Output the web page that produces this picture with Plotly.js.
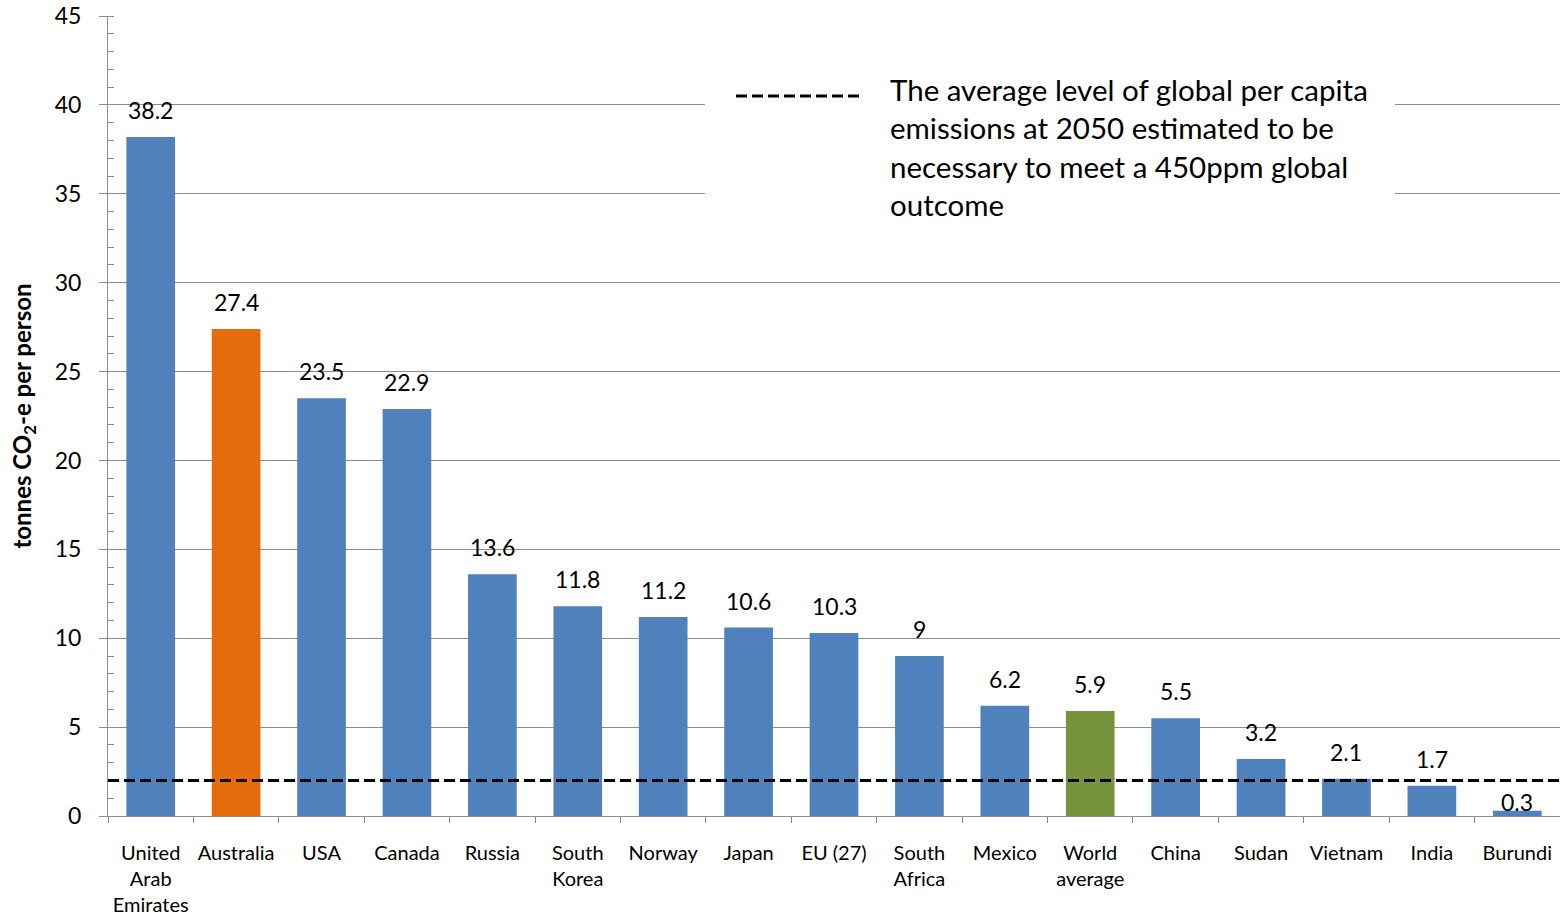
<!DOCTYPE html>
<html>
<head>
<meta charset="utf-8">
<script src="https://cdn.plot.ly/plotly-3.0.1.min.js"></script>
<style>html,body{margin:0;padding:0;background:#fff;}#chart{width:1560px;height:915px;}</style>
</head>
<body>
<div id="chart"></div>
<script>
// ---- data ----
const categories = ["United Arab Emirates","Australia","USA","Canada","Russia","South Korea","Norway","Japan","EU (27)","South Africa","Mexico","World average","China","Sudan","Vietnam","India","Burundi"];
const tickLabels = ["United<br>Arab<br>Emirates","Australia","USA","Canada","Russia","South<br>Korea","Norway","Japan","EU (27)","South<br>Africa","Mexico","World<br>average","China","Sudan","Vietnam","India","Burundi"];
const emissions = [38.2,27.4,23.5,22.9,13.6,11.8,11.2,10.6,10.3,9,6.2,5.9,5.5,3.2,2.1,1.7,0.3];
const valueLabels = ["38.2","27.4","23.5","22.9","13.6","11.8","11.2","10.6","10.3","9","6.2","5.9","5.5","3.2","2.1","1.7","0.3"];
const target2050 = 2;
const targetLabel = "The average level of global per capita<br>emissions at 2050 estimated to be<br>necessary to meet a 450ppm global<br>outcome";
const yTicks = [0,5,10,15,20,25,30,35,40,45];

// ---- styles ----
const FONT = "Lato, 'Open Sans', sans-serif";
const BLUE = "#4F81BD", ORANGE = "#E46C0A", GREEN = "#77933C";
const highlight = {"Australia": ORANGE, "World average": GREEN};
const barColors = categories.map(c => highlight[c] || BLUE);
const labelShift = {"Burundi": 9};   // label placement tweak (px)
const GRID = "#8C8C8C";

const trace = {
  type: "bar",
  x: categories,
  y: emissions,
  marker: {color: barColors, line: {width: 0}},
  hoverinfo: "x+y",
  showlegend: false
};

const annotations = categories.map((c, i) => ({
  x: c, y: emissions[i], xref: "x", yref: "y",
  text: valueLabels[i], showarrow: false,
  yanchor: "middle", yshift: (labelShift[c] !== undefined ? labelShift[c] : 27),
  font: {family: FONT, size: 23, color: "#000"}
}));

annotations.push({
  xref: "paper", yref: "paper",
  x: (888-108)/1452, y: (816-70)/800,
  xanchor: "left", yanchor: "top", align: "left",
  text: targetLabel, showarrow: false,
  font: {family: FONT, size: 29.5, color: "#000"}
});

const shapes = [
  {type: "rect", xref: "paper", yref: "paper", x0: (705-108)/1452, x1: (1395-108)/1452, y0: (816-240)/800, y1: (816-62)/800,
   fillcolor: "#fff", line: {width: 0}, layer: "above"},
  {type: "line", xref: "paper", yref: "paper", x0: (736-108)/1452, x1: (863-108)/1452, y0: (816-96)/800, y1: (816-96)/800,
   line: {color: "#000", width: 3, dash: "11px,5px"}, layer: "above"},
  {type: "line", xref: "paper", yref: "y", x0: 0, x1: 1, y0: target2050, y1: target2050,
   line: {color: "#000", width: 3, dash: "11px,5px"}, layer: "above"}
];

const layout = {
  width: 1560, height: 915,
  margin: {l: 108, r: 0, t: 16, b: 99, pad: 0},
  paper_bgcolor: "#fff", plot_bgcolor: "#fff",
  font: {family: FONT, color: "#000"},
  bargap: 0.43,
  xaxis: {
    type: "category",
    tickvals: categories, ticktext: tickLabels,
    tickson: "boundaries",
    ticks: "outside", ticklen: 6, tickcolor: GRID, tickwidth: 1,
    showline: true, linecolor: GRID, linewidth: 1,
    showgrid: false, zeroline: false,
    tickfont: {family: FONT, size: 20, color: "#000"},
    ticklabelstandoff: 19,
    tickangle: 0,
    automargin: false
  },
  yaxis: {
    range: [0, 45],
    tickvals: yTicks,
    ticks: "outside", ticklen: 8, tickcolor: GRID, tickwidth: 1,
    showline: true, linecolor: GRID, linewidth: 1,
    showgrid: true, gridcolor: GRID, gridwidth: 1,
    zeroline: false,
    minor: {dtick: 1, ticks: "inside", ticklen: 6, tickcolor: GRID, showgrid: false},
    tickfont: {family: FONT, size: 23, color: "#000"},
    ticklabelstandoff: 13,
    title: {text: "<b>tonnes CO<sub>2</sub>-e per person</b>", font: {family: FONT, size: 24, color: "#000"}, standoff: 16},
    automargin: false
  },
  annotations: annotations,
  shapes: shapes
};

Plotly.newPlot("chart", [trace], layout, {displayModeBar: false, staticPlot: true});
</script>
</body>
</html>
